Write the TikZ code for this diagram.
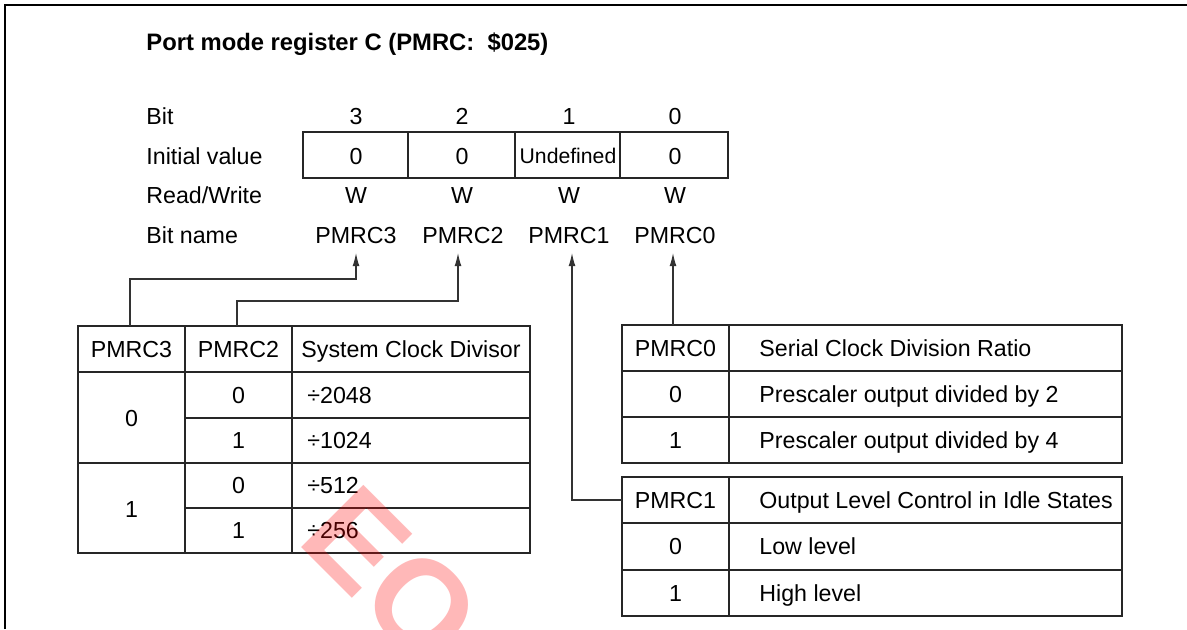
\documentclass[tikz,border=0pt]{standalone}
\usepackage{fontspec}
\setmainfont{Liberation Sans}
\usetikzlibrary{arrows.meta}
\begin{document}
\begin{tikzpicture}[x=0.5pt,y=-0.5pt,
  grid/.style={draw=black!85, line width=0.6pt},
  frame/.style={draw=black, line width=1pt},
  conn/.style={draw=black!80, line width=0.55pt},
  arr/.style={conn, -{Latex[length=6.5pt,width=3.4pt]}},
  txt/.style={inner sep=0pt, anchor=base, font=\fontsize{11.6}{13}\selectfont},
  ltxt/.style={txt, anchor=base west},
  small/.style={txt, font=\fontsize{10.6}{12}\selectfont},
  title/.style={inner sep=0pt, anchor=base west, font=\fontsize{11.9}{13}\selectfont\bfseries},
  wmark/.style={inner sep=0pt, anchor=base west, rotate=-45, text=red, opacity=0.28,
    font=\fontsize{64}{64}\selectfont\bfseries}]
\useasboundingbox (0,0) rectangle (1187,629);
% frame
\draw[frame] (5,629) -- (5,5) -- (1187,5);
% title
\node[title] (ttl) at (146,50) {Port mode register C (PMRC:\ \ \$025)};
% row labels
\node[ltxt] (lbit) at (146,124) {Bit};
\node[ltxt] (linit) at (146,164) {Initial value};
\node[ltxt] (lrw) at (146,203) {Read/Write};
\node[ltxt] (lname) at (146,243) {Bit name};
% register box
\draw[grid] (303,132) rectangle (728,178);
\draw[grid] (408,132) -- (408,178) (515,132) -- (515,178) (620,132) -- (620,178);
% bit numbers
\node[txt] (n3) at (356,124) {3};
\node[txt] (n2) at (462,124) {2};
\node[txt] (n1) at (569,124) {1};
\node[txt] (n0) at (675,124) {0};
% initial values
\node[txt] (i3) at (356,164) {0};
\node[txt] (i2) at (462,164) {0};
\node[small] (i1) at (568,163) {Undefined};
\node[txt] (i0) at (675,164) {0};
% read/write
\node[txt] (w3) at (356,203) {W};
\node[txt] (w2) at (462,203) {W};
\node[txt] (w1) at (569,203) {W};
\node[txt] (w0) at (675,203) {W};
% bit names
\node[txt] (b3) at (356,243) {PMRC3};
\node[txt] (b2) at (463,243) {PMRC2};
\node[txt] (b1) at (569,243) {PMRC1};
\node[txt] (b0) at (675,243) {PMRC0};
\coordinate (a3) at (356,253);
\coordinate (a2) at (458,253);
\coordinate (a1) at (572,253);
\coordinate (a0) at (673,253);

% left table
\draw[grid] (78,326) rectangle (530,553);
\draw[grid] (185,326) -- (185,553) (292,326) -- (292,553);
\draw[grid] (78,372) -- (530,372) (78,463) -- (530,463);
\draw[grid] (185,418) -- (530,418) (185,508) -- (530,508);
\node[txt] (lh3) at (131.5,357) {PMRC3};
\node[txt] (lh2) at (238.5,357) {PMRC2};
\node[txt] (lhd) at (411,357) {System Clock Divisor};
\node[txt] (lr0) at (131.5,426) {0};
\node[txt] (lr1) at (131.5,517) {1};
\node[txt] (lc1) at (238.5,403) {0};
\node[txt] (lc2) at (238.5,448) {1};
\node[txt] (lc3) at (238.5,493) {0};
\node[txt] (lc4) at (238.5,538) {1};
\node[ltxt] (ld1) at (307,403) {÷2048};
\node[ltxt] (ld2) at (307,448) {÷1024};
\node[ltxt] (ld3) at (307,493) {÷512};
\node[ltxt] (ld4) at (307,538) {÷256};
\coordinate (c3) at (130,326);
\coordinate (c2) at (237,326);

% right table PMRC0
\draw[grid] (622,325) rectangle (1122,463);
\draw[grid] (729,325) -- (729,463);
\draw[grid] (622,371) -- (1122,371) (622,417) -- (1122,417);
\node[txt] (r0h) at (675.5,356) {PMRC0};
\node[ltxt] (r0t) at (759,356) {Serial Clock Division Ratio};
\node[txt] (r0a) at (675.5,402) {0};
\node[ltxt] (r0b) at (759,402) {Prescaler output divided by 2};
\node[txt] (r0c) at (675.5,448) {1};
\node[ltxt] (r0d) at (759,448) {Prescaler output divided by 4};
\coordinate (c0) at (673,325);

% right table PMRC1
\draw[grid] (622,477) rectangle (1122,616);
\draw[grid] (729,477) -- (729,616);
\draw[grid] (622,523) -- (1122,523) (622,570) -- (1122,570);
\node[txt] (r1h) at (675.5,508) {PMRC1};
\node[ltxt] (r1t) at (759,508) {Output Level Control in Idle States};
\node[txt] (r1a) at (675.5,554) {0};
\node[ltxt] (r1b) at (759,554) {Low level};
\node[txt] (r1c) at (675.5,601) {1};
\node[ltxt] (r1d) at (759,601) {High level};
\coordinate (c1) at (622,500);

% connectors
\draw[arr] (c3) -- (130,279) -| (a3);
\draw[arr] (c2) -- (237,301) -| (a2);
\draw[arr] (c1) -| (a1);
\draw[arr] (c0) -- (a0);

% watermark
\node[wmark] (wm) at (295,541) {EO};
\end{tikzpicture}
\end{document}
